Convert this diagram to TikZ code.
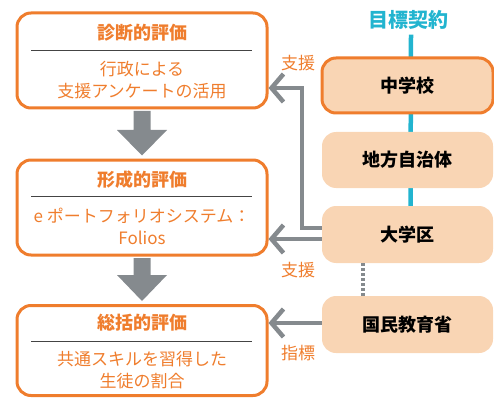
\documentclass[tikz,border=0pt]{standalone}
\usepackage{fontspec}
\setmainfont{Noto Sans CJK JP}
\usetikzlibrary{arrows.meta,calc,backgrounds}
\definecolor{orng}{HTML}{EF7D2D}
\definecolor{peach}{HTML}{F9D5B4}
\definecolor{gry}{HTML}{858A8E}
\definecolor{cyn}{HTML}{22B4CF}
\definecolor{rule}{HTML}{444444}
\tikzset{
  x=1pt,y=-1pt,
  leftbox/.style={draw=orng,line width=3pt,rounded corners=14pt,minimum width=250pt,inner sep=0pt},
  rightbox/.style={fill=peach,rounded corners=14pt,minimum width=171pt,minimum height=56pt,inner sep=0pt,font=\fontsize{18}{20}\selectfont\bfseries,text=black},
  ttl/.style={font=\fontsize{18}{20}\selectfont\bfseries,text=orng,inner sep=0pt},
  body/.style={font=\fontsize{17}{22}\selectfont,text=orng,align=center,inner sep=0pt},
  lbl/.style={font=\fontsize{17}{20}\selectfont,text=orng,inner sep=0pt},
  conn/.style={draw=gry,line width=4.5pt,-{Straight Barb[length=12pt,width=28pt]}},
}
\begin{document}
\begin{tikzpicture}
\useasboundingbox (0,0) rectangle (494,398);
% left boxes
\node[leftbox,minimum height=95pt] (b1) at (142,60.5) {};
\node[ttl] (t1) at (142,33) {診断的評価};
\node[body] (d1) at (142,80.5) {行政による\\支援アンケートの活用};
\draw[rule,line width=0.8pt] (31,50) -- (252,50);

\node[leftbox,minimum height=95pt] (b2) at (142,207.5) {};
\node[ttl] (t2) at (142,180) {形成的評価};
\node[body] (d2) at (142,226) {e ポートフォリオシステム：\\Folios};
\draw[rule,line width=0.8pt] (31,196) -- (252,196);

\node[leftbox,minimum height=90pt] (b3) at (142,350.5) {};
\node[ttl] (t3) at (142,323) {総括的評価};
\node[body] (d3) at (142,370.5) {共通スキルを習得した\\生徒の割合};
\draw[rule,line width=0.8pt] (31,341) -- (252,341);

% fat arrows
\fill[gry] ($(b1.south)+(-8.5,1.5)$) -- ++(0,19) -- ++(-16.5,0) -- ($(b2.north)+(0,-3)$) -- ($(b1.south)+(25,20.5)$) -- ++(-16.5,0) -- ++(0,-19) -- cycle;
\fill[gry] ($(b2.south)+(-8.5,1.5)$) -- ++(0,17) -- ++(-16.5,0) -- ($(b3.north)+(0,-3)$) -- ($(b2.south)+(25,18.5)$) -- ++(-16.5,0) -- ++(0,-17) -- cycle;

% right boxes
\node[font=\fontsize{20}{22}\selectfont\bfseries,text=cyn,inner sep=0pt] (goal) at (408,20) {目標契約};
\node[rightbox,draw=orng,line width=3pt,minimum height=55pt] (s1) at (407.5,85.5) {中学校};
\node[rightbox] (s2) at (407.5,160) {地方自治体};
\node[rightbox,minimum height=57pt] (s3) at (407.5,234.5) {大学区};
\node[rightbox,minimum height=57pt] (s4) at (407.5,324.5) {国民教育省};

\begin{scope}[on background layer]
\draw[cyn,line width=4.5pt] ([xshift=3pt,yshift=-5pt]goal.south) -- ([xshift=3pt]s3.north);
\end{scope}
\draw[gry,line width=4.5pt,dash pattern=on 3pt off 2pt] ([xshift=-44.5pt]s3.south) -- ([xshift=-44.5pt]s4.north);

% connectors
\draw[conn] ([yshift=6.5pt]s3.west) -| (302,88) -- (b1.east |- 0,88);
\draw[conn] ([yshift=-4.5pt]s3.west) -- (b2.east |- 0,239);
\draw[conn] (s4.west |- 0,323) -- (b3.east |- 0,323);

% labels
\node[lbl] (l1) at (298,63) {支援};
\node[lbl] (l2) at (298,270) {支援};
\node[lbl] (l3) at (298,353) {指標};
\end{tikzpicture}
\end{document}
